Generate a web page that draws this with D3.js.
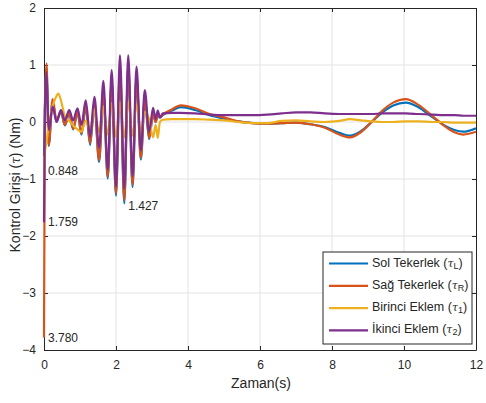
<!DOCTYPE html>
<html>
<head>
<meta charset="utf-8">
<script src="https://cdn.jsdelivr.net/npm/d3@7"></script>
<style>
  body { margin: 0; background: #fff; }
  text { font-family: "Liberation Sans", Arial, Helvetica, sans-serif; fill: #262626; }
</style>
</head>
<body>
<svg id="chart" width="486" height="403"></svg>
<script>
// Sample times (s)
const time = [0, 0.025, 0.07, 0.13, 0.24, 0.35, 0.40, 0.47, 0.58, 0.70, 0.81, 0.93, 1.04, 1.16, 1.28, 1.40, 1.53, 1.65, 1.77, 1.88, 2.00,
  2.11, 2.23, 2.34, 2.46, 2.57, 2.69, 2.80, 2.92, 3.03, 3.10, 3.16, 3.22, 3.30, 3.55, 3.80, 4.20, 4.60, 5.00, 5.40, 5.80,
  6.20, 6.60, 7.00, 7.40, 7.80, 8.20, 8.50, 8.80, 9.10, 9.40, 9.70, 10.05, 10.40, 10.80, 11.10, 11.40, 11.65, 12.00];

// Left wheel torque
const tauL = [-0.6, 0.2, 0.95, -0.42, 0.36, 0.0, 0.08, 0.18, -0.06, 0.15, -0.13, 0.17, -0.22, 0.26, -0.40, 0.31, -0.70, 0.52, -0.99, 0.70, -1.29,
  0.92, -1.427, 0.95, -1.14, 0.78, -0.66, 0.40, -0.30, 0.14, 0.0, 0.11, 0.08, 0.12, 0.20, 0.26, 0.21, 0.12, 0.06, 0.01, -0.02,
  -0.03, -0.02, -0.01, -0.04, -0.09, -0.19, -0.24, -0.16, 0.0, 0.17, 0.29, 0.34, 0.26, 0.08, -0.05, -0.14, -0.17, -0.11];

// Right wheel torque
const tauR = [-3.780, 0.3, 1.03, -0.40, 0.40, 0.02, 0.10, 0.20, -0.05, 0.16, -0.12, 0.18, -0.20, 0.28, -0.37, 0.33, -0.67, 0.55, -0.96, 0.72, -1.25,
  0.95, -1.37, 0.98, -1.10, 0.80, -0.63, 0.42, -0.28, 0.15, 0.0, 0.12, 0.08, 0.13, 0.22, 0.29, 0.24, 0.14, 0.08, 0.01, -0.02,
  -0.03, -0.02, -0.01, -0.04, -0.10, -0.22, -0.27, -0.18, 0.0, 0.20, 0.34, 0.40, 0.30, 0.10, -0.06, -0.18, -0.22, -0.17];

// First joint torque
const tau1 = [-0.848, -0.55, -0.35, -0.05, 0.28, 0.46, 0.50, 0.38, 0.10, 0.02, -0.06, -0.13, -0.17, 0.02, -0.12, 0.22, -0.18, 0.28, -0.22, 0.33, -0.26,
  0.36, -0.27, 0.36, -0.24, 0.32, -0.18, 0.18, 0.05, -0.27, -0.05, -0.28, 0.0, 0.04, 0.05, 0.05, 0.05, 0.04, 0.03, 0.0, -0.02,
  -0.02, 0.02, 0.03, 0.01, 0.0, 0.02, 0.05, 0.03, 0.01, 0.0, 0.0, 0.01, 0.01, 0.0, 0.0, -0.01, -0.01, -0.01];

// Second joint torque
const tau2 = [-1.759, 0.2, 0.87, -0.14, 0.27, 0.0, 0.08, 0.21, 0.03, 0.21, 0.03, 0.24, -0.05, 0.38, -0.26, 0.44, -0.45, 0.72, -0.84, 0.91, -1.13,
  1.17, -1.17, 1.17, -0.95, 0.97, -0.50, 0.56, -0.18, 0.25, 0.05, 0.20, 0.08, 0.15, 0.16, 0.16, 0.15, 0.13, 0.12, 0.12, 0.12,
  0.13, 0.15, 0.17, 0.17, 0.15, 0.14, 0.14, 0.14, 0.14, 0.15, 0.15, 0.15, 0.14, 0.13, 0.12, 0.12, 0.11, 0.11];

const xTicks = [0, 2, 4, 6, 8, 10, 12];
const yTicks = [-4, -3, -2, -1, 0, 1, 2];

const seriesNames = ["Sol Tekerlek", "Sağ Tekerlek", "Birinci Eklem", "İkinci Eklem"];
const seriesSubs = ["L", "R", "1", "2"];
const seriesColors = ["#0072BD", "#D95319", "#EDB120", "#7E2F8E"];
const seriesValues = [tauL, tauR, tau1, tau2];

// Value callouts: [time, value, text]
const callouts = [
  [0, -0.848, "0.848"],
  [0, -1.759, "1.759"],
  [0, -3.780, "3.780"],
  [2.23, -1.427, "1.427"]
];

const svg = d3.select("#chart");
const plotL = 44, plotR = 476, plotT = 8, plotB = 350;
const x = d3.scaleLinear().domain([0, 12]).range([plotL, plotR]);
const y = d3.scaleLinear().domain([-4, 2]).range([plotB, plotT]);

// grid
const grid = svg.append("g").attr("stroke", "#e3e3e3").attr("stroke-width", 1);
xTicks.slice(1, -1).forEach(t => grid.append("line")
  .attr("x1", x(t)).attr("x2", x(t)).attr("y1", plotT).attr("y2", plotB));
yTicks.slice(1, -1).forEach(t => grid.append("line")
  .attr("x1", plotL).attr("x2", plotR).attr("y1", y(t)).attr("y2", y(t)));

// axes
const axisColor = "#262626";
function styleAxis(g, labels) {
  g.select(".domain").attr("stroke", axisColor).attr("stroke-width", 1);
  g.selectAll(".tick line").attr("stroke", axisColor);
  g.selectAll(".tick text").attr("fill", axisColor).style("font-size", "12px")
    .style("font-family", "'Liberation Sans', Arial, sans-serif");
  if (!labels) g.selectAll(".tick text").remove();
}
svg.append("g").attr("transform", `translate(0,${plotB})`)
  .call(d3.axisBottom(x).tickValues(xTicks).tickSizeInner(-4).tickSizeOuter(0).tickPadding(10))
  .call(g => styleAxis(g, true));
svg.append("g").attr("transform", `translate(0,${plotT})`)
  .call(d3.axisTop(x).tickValues(xTicks).tickSizeInner(-4).tickSizeOuter(0))
  .call(g => styleAxis(g, false));
svg.append("g").attr("transform", `translate(${plotL},0)`)
  .call(d3.axisLeft(y).tickValues(yTicks).tickSizeInner(-4).tickSizeOuter(0).tickPadding(8).tickFormat(d3.format("d")))
  .call(g => styleAxis(g, true));
svg.append("g").attr("transform", `translate(${plotR},0)`)
  .call(d3.axisRight(y).tickValues(yTicks).tickSizeInner(-4).tickSizeOuter(0))
  .call(g => styleAxis(g, false));

// lines, drawn over the axes; the clip leaves room for the stroke width along the edges
svg.append("clipPath").attr("id", "plotclip").append("rect")
  .attr("x", plotL - 3).attr("y", plotT - 2).attr("width", plotR - plotL + 3).attr("height", plotB - plotT + 4);

const line = d3.line()
  .x((d, i) => x(time[i]))
  .y(d => y(d))
  .curve(d3.curveMonotoneX);

const lines = svg.append("g").attr("clip-path", "url(#plotclip)");
seriesValues.forEach((vals, k) => {
  lines.append("path")
    .datum(vals)
    .attr("d", line)
    .attr("fill", "none")
    .attr("stroke", seriesColors[k])
    .attr("stroke-width", 2.2)
    .attr("stroke-linejoin", "round");
});

// axis titles
svg.append("text")
  .attr("x", 261).attr("y", 388)
  .attr("text-anchor", "middle").style("font-size", "14px")
  .text("Zaman(s)");

const yl = svg.append("text")
  .attr("transform", `translate(20,185) rotate(-90)`)
  .attr("text-anchor", "middle").style("font-size", "14px");
yl.append("tspan").text("Kontrol Girişi (");
yl.append("tspan").style("font-style", "italic").style("font-family", "'DejaVu Serif', serif").style("font-size", "12px").text("τ");
yl.append("tspan").text(") (Nm)");

// callouts
svg.append("g").selectAll("text").data(callouts).join("text")
  .attr("x", d => x(d[0]) + 4)
  .attr("y", d => y(d[1]) + (d[0] > 0 ? 3 : 1))
  .attr("dominant-baseline", "middle")
  .style("font-size", "12px")
  .text(d => d[2]);

// legend
const lgX = 323, lgY = 252, lgW = 149, lgH = 92;
const lg = svg.append("g");
lg.append("rect").attr("x", lgX).attr("y", lgY).attr("width", lgW).attr("height", lgH)
  .attr("fill", "#fff").attr("stroke", axisColor).attr("stroke-width", 1);
seriesNames.forEach((name, k) => {
  const cy = lgY + 11.5 + k * 22.3;
  lg.append("line").attr("x1", lgX + 6).attr("x2", lgX + 45).attr("y1", cy).attr("y2", cy)
    .attr("stroke", seriesColors[k]).attr("stroke-width", 2.2);
  const t = lg.append("text").attr("x", lgX + 49).attr("y", cy).attr("dominant-baseline", "middle")
    .style("font-size", "12.5px");
  t.append("tspan").text(name + " (");
  t.append("tspan").style("font-style", "italic").style("font-family", "'DejaVu Serif', serif").style("font-size", "11px").text("τ");
  t.append("tspan").attr("dy", 3).style("font-size", "9px").text(seriesSubs[k]);
  t.append("tspan").attr("dy", -3).text(")");
});
</script>
</body>
</html>
